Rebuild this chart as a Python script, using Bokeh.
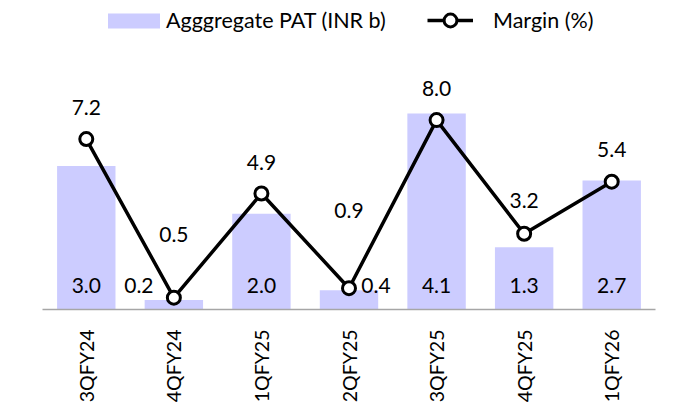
from bokeh.plotting import figure
from bokeh.models import Range1d, FactorRange, Legend, LegendItem, ColumnDataSource
from bokeh.core.properties import value
from bokeh.embed import file_html
from bokeh.resources import INLINE
import math

# ---- data ----
quarters = ["3QFY24", "4QFY24", "1QFY25", "2QFY25", "3QFY25", "4QFY25", "1QFY26"]
pat = [3.0, 0.2, 2.0, 0.4, 4.1, 1.3, 2.7]
margin = [7.2, 0.5, 4.9, 0.9, 8.0, 3.2, 5.4]

# ---- label placement (screen px, styling only) ----
pat_label_dx = [0, -35, 0, 27, 0, 0, 0]
margin_label_dy = [32, 63, 31, 78, 32, 33, 32]

FONT = "Lato"
FS = "21px"

src = ColumnDataSource(dict(
    q=quarters, pat=pat, margin=margin,
    pat_txt=[f"{v:.1f}" for v in pat],
    mar_txt=[f"{v:.1f}" for v in margin],
    zero=[0] * len(quarters),
    dx=pat_label_dx,
    dy=[-d for d in margin_label_dy],
))

FRAME_H = 305  # px, frame from y=5 to y=310
p = figure(width=680, height=405, output_backend="svg", toolbar_location=None,
           x_range=FactorRange(*quarters, range_padding=0),
           y_range=Range1d(0, FRAME_H / 47.97),
           min_border_left=42, min_border_right=25, min_border_top=5, min_border_bottom=95)
p.extra_y_ranges = {"margin": Range1d(0, FRAME_H / 23.75)}
p.outline_line_color = None
p.xgrid.visible = False
p.ygrid.visible = False
p.yaxis.visible = False
p.background_fill_color = "white"
p.border_fill_color = "white"

bars = p.vbar(x="q", top="pat", width=0.667, source=src, fill_color="#CCCCFF", line_color=None)

p.text(x="q", y="zero", text="pat_txt", x_offset="dx", y_offset=-24, source=src,
       text_align="center", text_baseline="middle", text_font=value(FONT),
       text_font_size=FS, text_color="#000000")

line = p.line(x="q", y="margin", source=src, y_range_name="margin", line_color="#000000", line_width=3.5)
pts = p.scatter(x="q", y="margin", source=src, y_range_name="margin", size=13,
                marker="circle", fill_color="white", line_color="#000000", line_width=3)

p.text(x="q", y="margin", text="mar_txt", y_offset="dy", source=src, y_range_name="margin",
       text_align="center", text_baseline="middle", text_font=value(FONT),
       text_font_size=FS, text_color="#000000")

ax = p.xaxis[0]
ax.axis_line_color = "#A6A6A6"
ax.axis_line_width = 1.5
ax.major_tick_line_color = None
ax.minor_tick_line_color = None
ax.major_tick_out = 0
ax.major_label_orientation = math.pi / 2
ax.major_label_standoff = 20
ax.major_label_text_font = FONT
ax.major_label_text_font_size = "19.5px"
ax.major_label_text_color = "#000000"

LFS = "21.5px"
leg1 = Legend(items=[LegendItem(label="Agggregate PAT (INR b)", renderers=[bars])],
              location=(59, 276), orientation="horizontal", padding=0, margin=0,
              glyph_width=65, glyph_height=19, label_height=19, label_standoff=0,
              border_line_color=None, background_fill_alpha=0,
              label_text_font=FONT, label_text_font_size=LFS, label_text_color="#000000")
leg2 = Legend(items=[LegendItem(label="Margin (%)", renderers=[line, pts])],
              location=(385, 273), orientation="horizontal", padding=0, margin=0,
              glyph_width=46, glyph_height=32, label_height=32, label_standoff=20,
              border_line_color=None, background_fill_alpha=0,
              label_text_font=FONT, label_text_font_size=LFS, label_text_color="#000000")
p.add_layout(leg1, "center")
p.add_layout(leg2, "center")

open("out.html", "w").write(file_html(p, INLINE))
